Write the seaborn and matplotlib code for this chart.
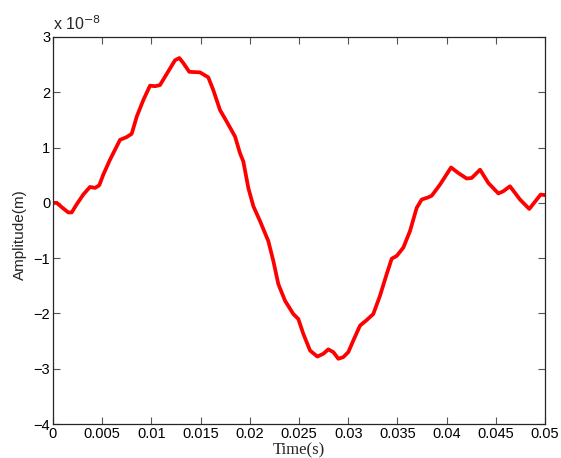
import numpy as np
import pandas as pd
import matplotlib
matplotlib.use("Agg")
import matplotlib.pyplot as plt
import seaborn as sns

# Time samples (s)
time_s = [0.0, 0.00038, 0.00088, 0.00155, 0.0019, 0.0024, 0.00308, 0.00376, 0.00427, 0.0047,
          0.00511, 0.00579, 0.00681, 0.00749, 0.0080, 0.00851, 0.00918, 0.00986, 0.01037, 0.01087,
          0.01138, 0.0124, 0.01284, 0.01324, 0.01385, 0.01494, 0.01578, 0.01629, 0.01697, 0.01765,
          0.0185, 0.019, 0.01934, 0.01985, 0.02036, 0.02104, 0.02188, 0.02239, 0.0229, 0.02358,
          0.02442, 0.02493, 0.02544, 0.02612, 0.02686, 0.02747, 0.02798, 0.02849, 0.029, 0.0295,
          0.03001, 0.03052, 0.0312, 0.03188, 0.03255, 0.03323, 0.03391, 0.03442, 0.03493, 0.0356,
          0.03628, 0.03696, 0.03747, 0.03814, 0.03849, 0.03933, 0.04045, 0.04119, 0.04204, 0.04255,
          0.0434, 0.04424, 0.04526, 0.04576, 0.04644, 0.04746, 0.0484, 0.04898, 0.04956, 0.05]

# Displacement amplitude in units of 1e-8 m
amplitude_e8 = [0.0, 0.0, -0.077, -0.173, -0.173, -0.029, 0.151, 0.288, 0.27, 0.318,
                0.51, 0.78, 1.14, 1.19, 1.25, 1.56, 1.86, 2.12, 2.11, 2.13,
                2.28, 2.58, 2.62, 2.53, 2.37, 2.36, 2.27, 2.04, 1.68, 1.47,
                1.20, 0.90, 0.75, 0.27, -0.06, -0.33, -0.69, -1.05, -1.47, -1.77,
                -2.01, -2.10, -2.37, -2.67, -2.78, -2.73, -2.65, -2.70, -2.82, -2.79,
                -2.70, -2.49, -2.22, -2.12, -2.01, -1.68, -1.29, -1.01, -0.96, -0.81,
                -0.51, -0.09, 0.06, 0.10, 0.13, 0.33, 0.64, 0.54, 0.44, 0.45,
                0.60, 0.36, 0.17, 0.21, 0.30, 0.06, -0.11, 0.02, 0.15, 0.14]

x_ticks = [0, 0.005, 0.01, 0.015, 0.02, 0.025, 0.03, 0.035, 0.04, 0.045, 0.05]
x_tick_labels = ["0", "0.005", "0.01", "0.015", "0.02", "0.025", "0.03", "0.035", "0.04", "0.045", "0.05"]
y_ticks = [-4, -3, -2, -1, 0, 1, 2, 3]

sns.set_theme(style="ticks")
SANS = ["Liberation Sans", "DejaVu Sans"]
SERIF = ["Liberation Serif", "DejaVu Serif"]
plt.rcParams["font.family"] = SANS
plt.rcParams["axes.unicode_minus"] = True

df = pd.DataFrame({"Time": time_s, "Amplitude": amplitude_e8})

W, H = 561, 458
fig = plt.figure(figsize=(W / 100, H / 100), dpi=100)
ax = fig.add_axes([53 / W, 34 / H, 492 / W, 387 / H])

sns.lineplot(data=df, x="Time", y="Amplitude", ax=ax, color="#ff0000",
             linewidth=2.7, sort=False, estimator=None)

ax.set_xlim(0, 0.05)
ax.set_ylim(-4, 3)
ax.set_xticks(x_ticks)
ax.set_xticklabels(x_tick_labels)
ax.set_yticks(y_ticks)

for side in ["top", "right", "bottom", "left"]:
    ax.spines[side].set_visible(True)
    ax.spines[side].set_color("#262626")
    ax.spines[side].set_linewidth(0.9)

ax.tick_params(axis="both", which="major", direction="in", length=5, width=0.8,
               color="#555555", labelsize=10.5, labelcolor="#000000",
               top=True, right=True, pad=2)

ax.set_xlabel("")
ax.set_ylabel("Amplitude(m)", fontsize=11, family=SANS)
ax.yaxis.set_label_coords((27 - 53) / 492, 0.49)

# x-axis title at the bottom edge of the figure
fig.text(299 / W, 4 / H, "Time(s)", family=SERIF,
         fontsize=12, ha="center", va="baseline")

# shared exponent for the amplitude axis
fig.text(53 / W, (H - 30) / H, "x 10$^{-8}$", fontsize=11.5, family=SANS,
         ha="left", va="baseline")

fig.savefig("out.png", dpi=100)
